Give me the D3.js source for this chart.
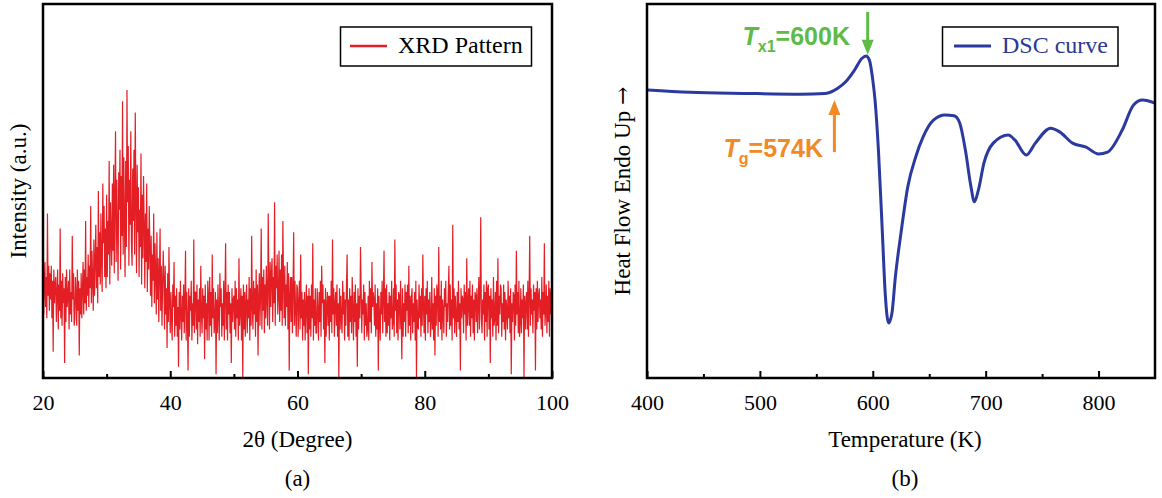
<!DOCTYPE html>
<html>
<head>
<meta charset="utf-8">
<script src="https://cdn.jsdelivr.net/npm/d3@7"></script>
<style>
  body { margin: 0; background: white; }
  svg text { font-family: "Liberation Serif", "Times New Roman", serif; }
</style>
</head>
<body>
<div id="viz-container"></div>
<script>
// ---- data ----
// XRD: 2theta from 20 to 100, step 0.1 degree (one row = one degree), intensity (a.u.)
let xrdStart = 20;
let xrdStep = 0.1;
let xrdIntensity = [
  29,17,25,31,19,27,16,44,22,30,
  18,28,21,30,16,26,7,29,20,25,
  27,15,23,29,13,25,18,40,16,26,
  14,28,20,24,4,27,15,29,19,22,
  26,13,29,17,23,15,38,21,28,14,
  16,27,22,14,29,18,26,6,24,17,
  28,16,24,31,17,29,20,42,18,27,
  22,33,19,30,24,46,20,34,26,18,
  37,22,31,41,24,35,20,50,27,39,
  25,44,31,23,52,36,46,27,40,24,
  49,27,42,33,58,25,47,38,30,52,
  34,57,28,48,66,31,53,40,26,55,
  45,61,29,54,38,74,33,59,42,27,
  58,35,77,47,62,30,53,41,66,36,
  30,56,42,61,33,71,48,28,57,39,
  51,27,45,35,60,25,49,32,54,41,
  24,44,31,52,23,40,29,46,35,22,
  38,19,33,26,44,20,36,28,17,39,
  21,32,15,28,40,18,30,14,25,34,
  26,13,30,17,24,8,28,15,35,20,
  12,23,16,10,25,19,31,11,22,14,
  24,11,19,3,23,13,26,17,10,22,
  15,25,12,21,34,10,23,16,2,24,
  11,22,18,26,10,20,14,37,12,23,
  23,13,25,9,21,15,24,11,30,17,
  12,24,16,22,5,25,13,20,10,26,
  22,10,27,14,23,11,33,16,24,12,
  15,23,1,21,12,25,17,10,28,19,
  24,11,20,14,26,10,22,36,13,23,
  10,25,17,23,12,20,4,24,15,21,
  22,13,26,11,24,16,21,10,32,14,
  18,24,10,22,0,25,13,23,11,20,
  25,12,21,16,27,10,24,14,38,19,
  13,26,17,24,11,29,15,25,6,22,
  28,14,23,40,13,27,18,29,12,25,
  16,30,21,14,44,26,13,31,19,28,
  32,15,27,20,47,14,30,24,33,17,
  22,34,15,29,18,33,14,42,26,16,
  30,14,25,19,31,13,28,2,22,27,
  15,27,12,24,39,14,26,18,11,25,
  24,11,20,26,13,33,16,23,10,21,
  14,23,10,19,25,12,22,1,24,13,
  22,11,25,16,36,10,21,14,24,12,
  12,24,18,10,23,15,26,11,30,20,
  25,13,21,4,24,11,19,23,14,22,
  10,22,15,26,12,37,17,24,11,20,
  23,14,25,11,20,0,24,13,22,16,
  12,26,17,23,10,21,14,25,33,11,
  21,10,24,15,22,12,27,18,10,23,
  15,25,11,20,3,24,13,22,16,35,
  24,12,21,17,25,10,23,14,20,11,
  13,22,10,26,15,24,12,31,19,23,
  21,14,25,11,20,13,24,2,22,16,
  10,23,17,26,12,21,34,15,24,11,
  25,12,20,14,23,10,22,16,26,13,
  15,24,11,37,18,25,12,21,10,23,
  22,13,26,16,5,24,11,20,15,25,
  11,23,18,25,12,30,14,22,10,21,
  24,12,20,15,23,10,26,0,21,14,
  13,25,16,22,11,24,14,33,19,12,
  22,10,24,17,26,12,21,15,23,11,
  15,27,13,20,10,24,6,22,14,25,
  23,11,35,15,22,13,26,10,21,18,
  12,24,19,26,11,20,15,23,30,13,
  25,14,21,10,41,16,24,12,22,17,
  11,23,15,26,13,20,2,24,16,22,
  21,12,25,17,23,10,32,14,20,24,
  14,26,11,22,16,25,12,21,10,23,
  22,15,24,12,20,27,13,23,43,16,
  12,21,17,25,10,23,15,26,11,24,
  25,13,22,4,24,16,21,11,27,14,
  16,23,10,26,14,32,12,22,17,25,
  24,11,20,15,25,13,23,10,21,18,
  13,26,16,22,12,24,1,20,15,23,
  22,10,25,14,34,17,23,12,26,11,
  15,24,12,21,16,25,0,22,13,20,
  23,13,26,11,22,38,14,24,17,21,
  12,25,18,23,2,24,13,26,15,22,
  24,16,21,13,27,11,23,17,36,14,
  18,25,12,22,15,26,11,24,17,23,
  20
];
let xrdMajorTicks = [20, 40, 60, 80, 100];
let xrdMinorTicks = [30, 50, 70, 90];

// DSC: temperature (K) and heat flow (a.u., endo up)
let dscTemp = [400.7, 438, 487, 536, 558, 569, 576, 584, 590.5, 594, 597, 600, 602, 605, 608.5, 611, 614, 617, 620, 625, 631, 638, 644.5, 654, 664, 672, 677, 682, 687, 690, 693.6, 698.5, 706.7, 720, 726, 736, 744, 757.6, 765.6, 777, 788.5, 800, 808, 821, 831, 839, 850];
let dscHeat = [77.0, 76.4, 76.1, 75.9, 76.1, 77.5, 79.2, 82.4, 85.5, 86.1, 85.0, 79.7, 74.3, 61.0, 38.8, 22.7, 14.7, 17.4, 27.0, 38.8, 51.1, 59.1, 64.4, 69.0, 70.3, 70.1, 68.2, 61.0, 51.1, 47.1, 50.3, 57.5, 62.8, 65.0, 63.6, 59.6, 62.8, 66.8, 65.8, 62.8, 61.8, 59.9, 60.4, 66.3, 73.0, 74.3, 73.5];
let dscMajorTicks = [400, 500, 600, 700, 800];
let dscMinorTicks = [450, 550, 650, 750];

// annotations: arrow at T from tail to tip, label ends at labelT on baseline labelY
let txArrow = {T: 595.5, from: 97.9, to: 86.4, labelT: 579.8, labelY: 89.0};
let tgArrow = {T: 566, from: 60.4, to: 74.3, labelT: 555.9, labelY: 59.2};

// ---- svg ----
let viz = d3.select("#viz-container")
              .append("svg")
                .attr("width", 1162)
                .attr("height", 498)
                .style("display", "block")
;

let plotTop = 4, plotBottom = 378;

// ================= panel (a) =================
let xA = d3.scaleLinear().domain([20, 100]).range([43, 552]);
let yA = d3.scaleLinear().domain([0, 100]).range([plotBottom, plotTop]);

let clipA = viz.append("clipPath").attr("id", "clipA")
clipA.append("rect").attr("x", 43).attr("y", plotTop).attr("width", 509).attr("height", plotBottom - plotTop);

let xrdLine = d3.line()
                .x(function(d, i){ return xA(xrdStart + i * xrdStep); })
                .y(function(d){ return yA(d); })
;
viz.append("path")
    .datum(xrdIntensity)
    .attr("d", xrdLine)
    .attr("clip-path", "url(#clipA)")
    .attr("fill", "none")
    .attr("stroke", "#e41e25")
    .attr("stroke-width", 1.2)
    .attr("stroke-linejoin", "bevel")
;

function drawAxis(xs, major, minor){
    let gMajor = viz.append("g")
                    .attr("transform", "translate(0," + plotBottom + ")")
                    .call(d3.axisBottom(xs).tickValues(major).tickSize(-7).tickPadding(16).tickFormat(d3.format("d")));
    gMajor.select(".domain").remove();
    gMajor.selectAll("line").attr("stroke", "black").attr("stroke-width", 2);
    gMajor.selectAll("text").style("font-size", "22px").attr("fill", "black")
          .style("font-family", "'Liberation Serif', 'Times New Roman', serif");
    let gMinor = viz.append("g")
                    .attr("transform", "translate(0," + plotBottom + ")")
                    .call(d3.axisBottom(xs).tickValues(minor).tickSize(-4).tickFormat(""));
    gMinor.select(".domain").remove();
    gMinor.selectAll("line").attr("stroke", "black").attr("stroke-width", 2);
}
drawAxis(xA, xrdMajorTicks, xrdMinorTicks);

viz.append("rect")
    .attr("x", 43).attr("y", plotTop).attr("width", 509).attr("height", plotBottom - plotTop)
    .attr("fill", "none").attr("stroke", "black").attr("stroke-width", 2.5)
;

// legend (a)
viz.append("rect").attr("x", 340.5).attr("y", 27).attr("width", 191).attr("height", 39)
    .attr("fill", "white").attr("stroke", "black").attr("stroke-width", 1.5);
viz.append("line").attr("x1", 350).attr("x2", 387).attr("y1", 46).attr("y2", 46)
    .attr("stroke", "#e41e25").attr("stroke-width", 2.5);
viz.append("text").text("XRD Pattern").attr("x", 398).attr("y", 53)
    .style("font-size", "24px").attr("fill", "black");

// axis titles (a)
viz.append("text").text("2θ (Degree)")
    .attr("x", xA(60)).attr("y", 447).attr("text-anchor", "middle").style("font-size", "23px");
viz.append("text").text("(a)")
    .attr("x", xA(60)).attr("y", 486).attr("text-anchor", "middle").style("font-size", "23px");
viz.append("text").text("Intensity (a.u.)")
    .attr("transform", "translate(26,191) rotate(-90)")
    .attr("text-anchor", "middle").style("font-size", "23px");

// ================= panel (b) =================
let xB = d3.scaleLinear().domain([400, 850]).range([647, 1155]);
let yB = d3.scaleLinear().domain([0, 100]).range([plotBottom, plotTop]);

let dscLine = d3.line()
                .x(function(d, i){ return xB(dscTemp[i]); })
                .y(function(d){ return yB(d); })
                .curve(d3.curveMonotoneX)
;
viz.append("path")
    .datum(dscHeat)
    .attr("d", dscLine)
    .attr("fill", "none")
    .attr("stroke", "#2b3a9e")
    .attr("stroke-width", 3)
;

drawAxis(xB, dscMajorTicks, dscMinorTicks);

viz.append("rect")
    .attr("x", 647).attr("y", plotTop).attr("width", 508).attr("height", plotBottom - plotTop)
    .attr("fill", "none").attr("stroke", "black").attr("stroke-width", 2.5)
;

// legend (b)
viz.append("rect").attr("x", 942.5).attr("y", 27).attr("width", 175.5).attr("height", 39)
    .attr("fill", "white").attr("stroke", "black").attr("stroke-width", 1.5);
viz.append("line").attr("x1", 954).attr("x2", 991).attr("y1", 46).attr("y2", 46)
    .attr("stroke", "#2b3a9e").attr("stroke-width", 3);
viz.append("text").text("DSC curve").attr("x", 1002).attr("y", 53)
    .style("font-size", "24px").attr("fill", "#2b3990");

// annotations
function arrow(a, color){
    let x = xB(a.T);
    let y0 = yB(a.from), y1 = yB(a.to);
    let dir = y1 > y0 ? 1 : -1;
    viz.append("line")
        .attr("x1", x).attr("x2", x).attr("y1", y0).attr("y2", y1 - dir * 10)
        .attr("stroke", color).attr("stroke-width", 3);
    viz.append("path")
        .attr("d", "M" + (x - 6) + "," + (y1 - dir * 15) + "L" + (x + 6) + "," + (y1 - dir * 15) + "L" + x + "," + y1 + "Z")
        .attr("fill", color);
}
arrow(txArrow, "#5dbb46");
arrow(tgArrow, "#f18a25");

function label(a, sub, rest, color){
    let t = viz.append("text")
                .attr("x", xB(a.labelT)).attr("y", yB(a.labelY))
                .attr("text-anchor", "end")
                .attr("fill", color)
                .style("font-family", "'Liberation Sans', Arial, sans-serif")
                .style("font-weight", "bold")
                .style("font-size", "25px");
    t.append("tspan").text("T").style("font-style", "italic");
    t.append("tspan").text(sub).attr("dy", 7).style("font-size", "16px");
    t.append("tspan").text(rest).attr("dy", -7);
}
label(txArrow, "x1", "=600K", "#5dbb46");
label(tgArrow, "g", "=574K", "#f18a25");

// axis titles (b)
viz.append("text").text("Temperature (K)")
    .attr("x", 905).attr("y", 447).attr("text-anchor", "middle").style("font-size", "23px");
viz.append("text").text("(b)")
    .attr("x", 905).attr("y", 486).attr("text-anchor", "middle").style("font-size", "23px");
let yLabelB = viz.append("text")
    .attr("transform", "translate(630,191) rotate(-90)")
    .attr("text-anchor", "middle").style("font-size", "23px");
yLabelB.append("tspan").text("Heat Flow Endo Up ");
yLabelB.append("tspan").text("→").style("font-family", "'DejaVu Serif', serif").style("font-size", "22px");
</script>
</body>
</html>
